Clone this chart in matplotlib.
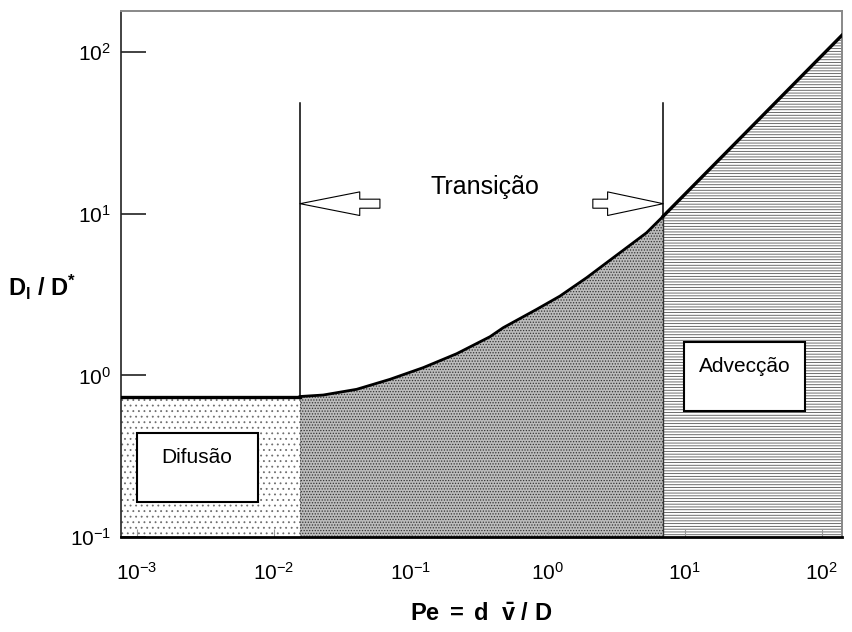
import numpy as np
import matplotlib
matplotlib.use("Agg")
import matplotlib.pyplot as plt
from matplotlib.patches import Rectangle

plt.rcParams["font.family"] = ["Liberation Sans", "DejaVu Sans"]
plt.rcParams["mathtext.fontset"] = "custom"
plt.rcParams["mathtext.rm"] = "Liberation Sans"
plt.rcParams["mathtext.it"] = "Liberation Sans"
plt.rcParams["mathtext.bf"] = "Liberation Sans:bold"
plt.rcParams["axes.unicode_minus"] = False
plt.rcParams["hatch.linewidth"] = 0.6

# regime boundaries (Pe) and curve
pe_diff_end = 0.0155          # end of pure diffusion plateau
pe_adv_start = 6.95           # start of advection regime
plateau = 0.74                # D_l / D* in diffusion regime

pe_trans = [0.0155, 0.0229, 0.0402, 0.0703, 0.123, 0.216, 0.378, 0.472,
            0.827, 1.224, 1.917, 3.355, 5.25, 6.95]
d_trans = [0.74, 0.756, 0.82, 0.945, 1.116, 1.361, 1.733, 1.97,
           2.556, 3.087, 4.01, 5.72, 7.6, 9.62]

pe_adv = [6.95, 140.0]
d_adv = [9.62, 126.0]

line_top = 48.0               # top of the two vertical boundary lines

xlim = (10 ** -3.117, 140.0)
ylim = (0.1, 179.0)

fig = plt.figure(figsize=(8.52, 6.32), dpi=100)
ax = fig.add_axes([0.142, 0.150, 0.846, 0.833])
ax.set_xscale("log")
ax.set_yscale("log")
ax.set_xlim(*xlim)
ax.set_ylim(*ylim)

# filled regions
ax.fill_between([xlim[0], pe_diff_end], [ylim[0]] * 2, [plateau] * 2,
                facecolor="white", edgecolor="#6e6e6e", hatch="...", lw=0, zorder=1)
ax.fill_between(pe_trans, [ylim[0]] * len(pe_trans), d_trans,
                facecolor="#bcbcbc", edgecolor="#333333", hatch="......", lw=0, zorder=1)
ax.fill_between(pe_adv, [ylim[0]] * 2, d_adv,
                facecolor="white", edgecolor="#555555", hatch="------", lw=0, zorder=1)

# upper boundary curve
ax.plot([xlim[0], pe_diff_end], [plateau, plateau], color="black", lw=2.4, zorder=3)
ax.plot(pe_trans, d_trans, color="black", lw=2.0, zorder=3)
ax.plot(pe_adv, d_adv, color="black", lw=2.4, zorder=3)

# regime divisions
ax.plot([pe_diff_end] * 2, [plateau, line_top], color="black", lw=1.1, zorder=3)
ax.plot([pe_adv_start] * 2, [d_adv[0], line_top], color="black", lw=1.1, zorder=3)
ax.plot([pe_diff_end] * 2, [ylim[0], plateau], color="#555555", lw=0.8, ls=":", zorder=2)
ax.plot([pe_adv_start] * 2, [ylim[0], d_adv[0]], color="#333333", lw=1.0, zorder=2)

# Transição arrows
arrow_y = 11.5
aprops = dict(arrowstyle="simple,head_length=4.3,head_width=1.7,tail_width=0.65",
              fc="white", ec="black", lw=0.8, shrinkA=0, shrinkB=0)
ax.annotate("", xy=(pe_diff_end, arrow_y), xytext=(0.0594, arrow_y), arrowprops=aprops)
aprops2 = dict(aprops, arrowstyle="simple,head_length=4.0,head_width=1.7,tail_width=0.65")
ax.annotate("", xy=(pe_adv_start, arrow_y), xytext=(2.13, arrow_y), arrowprops=aprops2)
ax.text(0.347, 14.5, "Transição", fontsize=18, ha="center", va="center")

# label boxes
ax.add_patch(Rectangle((1.0e-3, 0.164), 7.6e-3 - 1.0e-3, 0.438 - 0.164,
                       facecolor="white", edgecolor="black", lw=1.5, zorder=4))
ax.text(2.75e-3, 0.312, "Difusão", fontsize=15, ha="center", va="center", zorder=5)
ax.add_patch(Rectangle((9.85, 0.6), 76 - 9.85, 1.6 - 0.6,
                       facecolor="white", edgecolor="black", lw=1.5, zorder=4))
ax.text(27.4, 1.14, "Advecção", fontsize=15, ha="center", va="center", zorder=5)

# axes styling
for side in ["top", "right"]:
    ax.spines[side].set_color("#888888")
    ax.spines[side].set_linewidth(1.4)
ax.spines["left"].set_color("#222222")
ax.spines["left"].set_linewidth(1.2)
ax.spines["bottom"].set_color("black")
ax.spines["bottom"].set_linewidth(2.0)

ax.set_xticks([1e-3, 1e-2, 1e-1, 1e0, 1e1, 1e2])
ax.set_yticks([1e-1, 1e0, 1e1, 1e2])
ax.minorticks_off()
ax.tick_params(axis="y", direction="in", length=18, width=1.3, color="#333333",
               labelsize=15, pad=7)
ax.tick_params(axis="x", direction="in", length=6, width=0.8, color="#999999",
               labelsize=15, pad=18)

ax.set_xlabel(r"$\mathbf{Pe\ =\ d\ \ \bar{v}\ /\ D}$", fontsize=17, labelpad=14)
ax.set_ylabel(r"$\mathbf{D_l\ /\ D^{*}}$", fontsize=17, rotation=0, va="center")
ax.yaxis.set_label_coords(-0.11, 0.475)

fig.savefig("out.png", dpi=100)
